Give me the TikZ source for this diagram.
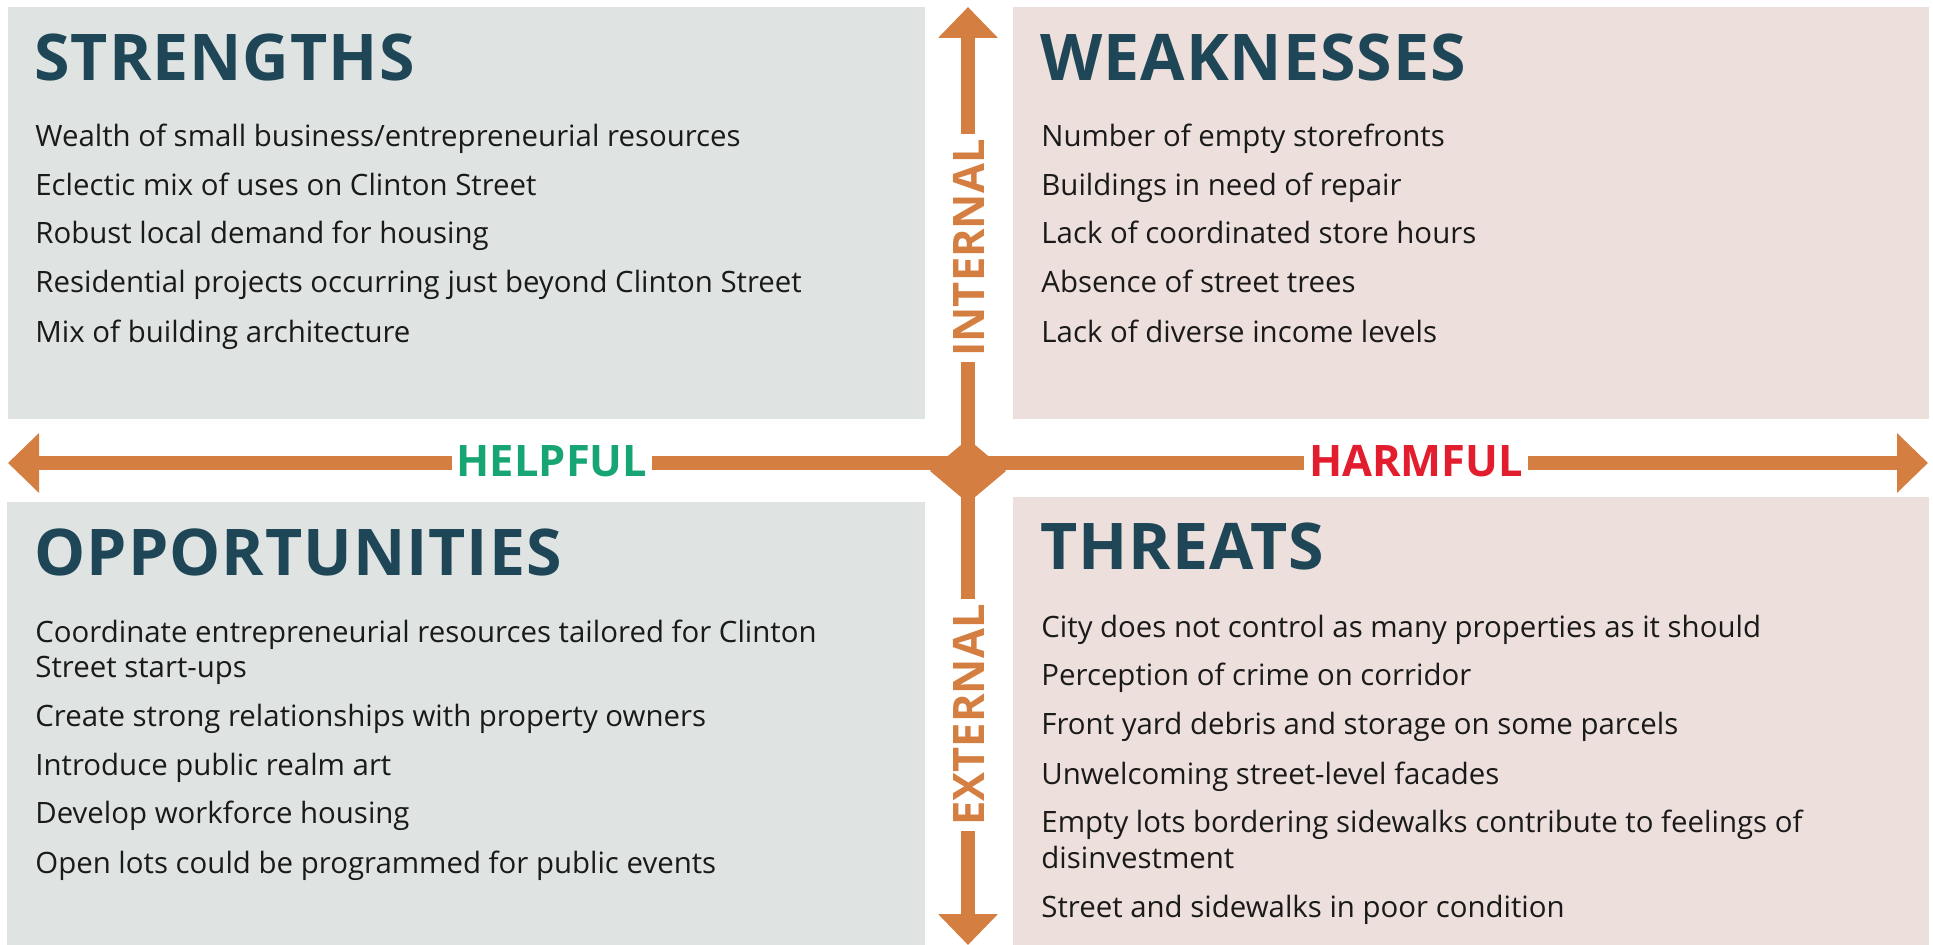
\documentclass[tikz,border=0pt]{standalone}
\usepackage{fontspec}
\setmainfont{Open Sans}
\newfontfamily\headfont{Open Sans}[LetterSpace=1.5]
\usetikzlibrary{arrows.meta}
\definecolor{boxL}{HTML}{DFE4E2}
\definecolor{boxR}{HTML}{EDDFDB}
\definecolor{orangec}{HTML}{D47F41}
\definecolor{headc}{HTML}{1E4657}
\definecolor{greenc}{HTML}{17A673}
\definecolor{redc}{HTML}{E21E2E}
\definecolor{bodyc}{HTML}{1A1A1A}
\tikzset{
  item/.style={anchor=base west, inner sep=0pt, text=bodyc, font=\fontsize{14.7}{18}\selectfont},
  head/.style={anchor=base west, inner sep=0pt, text=headc, font=\headfont\bfseries\fontsize{32.2}{36}\selectfont},
  axis/.style={draw=orangec, line width=7pt, -{Triangle[length=15.5pt,width=29pt]}},
  axlabel/.style={anchor=base, inner xsep=2.5pt, inner ysep=0pt, fill=white, font=\bfseries\fontsize{21.7}{24}\selectfont}
}
\begin{document}
\begin{tikzpicture}[x=0.5pt,y=-0.5pt]
\useasboundingbox (0,0) rectangle (1933,945);
% quadrant boxes
\fill[boxL] (8,7) rectangle (925,419);
\fill[boxR] (1013,7) rectangle (1929,419);
\fill[boxL] (7,502) rectangle (925,945);
\fill[boxR] (1013,497) rectangle (1929,945);
% axes
\coordinate (ctr) at (968,463);
\coordinate (leftEnd) at (8,463);
\coordinate (rightEnd) at (1928,463);
\coordinate (topEnd) at (968,7);
\coordinate (botEnd) at (968,945);
\draw[axis] (ctr) -- (leftEnd);
\draw[axis] (ctr) -- (rightEnd);
\draw[axis] (ctr) -- (topEnd);
\draw[axis] (ctr) -- (botEnd);
\fill[orangec] (930,471) -- (968,439) -- (1006,471) -- (968,503) -- cycle;
% axis labels
\node[axlabel, text=greenc] (helpful) at (552,477) {HELPFUL};
\node[axlabel, text=redc] (harmful) at (1416,477) {HARMFUL};
\node[axlabel, text=orangec, rotate=90] (internal) at (984,248) {INTERNAL};
\node[axlabel, text=orangec, rotate=90] (external) at (984,715) {EXTERNAL};
% headings
\node[head] (hS) at (34,81) {STRENGTHS};
\node[head] (hW) at (1040,81) {WEAKNESSES};
\node[head] (hO) at (34,576) {OPPORTUNITIES};
\node[head] (hT) at (1040,570) {THREATS};
% strengths
\node[item] (s1) at (35,147) {Wealth of small business/entrepreneurial resources};
\node[item] (s2) at (35,196) {Eclectic mix of uses on Clinton Street};
\node[item] (s3) at (35,244) {Robust local demand for housing};
\node[item] (s4) at (35,293) {Residential projects occurring just beyond Clinton Street};
\node[item] (s5) at (35,343) {Mix of building architecture};
% weaknesses
\node[item] (w1) at (1041,147) {Number of empty storefronts};
\node[item] (w2) at (1041,196) {Buildings in need of repair};
\node[item] (w3) at (1041,244) {Lack of coordinated store hours};
\node[item] (w4) at (1041,293) {Absence of street trees};
\node[item] (w5) at (1041,343) {Lack of diverse income levels};
% opportunities
\node[item] (o1a) at (35,643) {Coordinate entrepreneurial resources tailored for Clinton};
\node[item] (o1b) at (35,678) {Street start-ups};
\node[item] (o2) at (35,727) {Create strong relationships with property owners};
\node[item] (o3) at (35,776) {Introduce public realm art};
\node[item] (o4) at (35,824) {Develop workforce housing};
\node[item] (o5) at (35,873) {Open lots could be programmed for public events};
% threats
\node[item] (t1) at (1041,638) {City does not control as many properties as it should};
\node[item] (t2) at (1041,686) {Perception of crime on corridor};
\node[item] (t3) at (1041,735) {Front yard debris and storage on some parcels};
\node[item] (t4) at (1041,784) {Unwelcoming street-level facades};
\node[item] (t5a) at (1041,833) {Empty lots bordering sidewalks contribute to feelings of};
\node[item] (t5b) at (1041,868) {disinvestment};
\node[item] (t6) at (1041,917) {Street and sidewalks in poor condition};
\end{tikzpicture}
\end{document}
